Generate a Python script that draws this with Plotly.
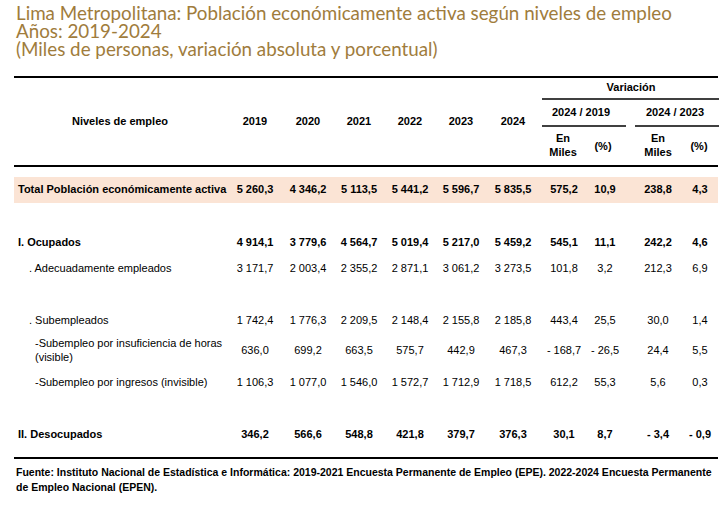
import plotly.graph_objects as go

niveles = [
    "Total Población económicamente activa",
    "I. Ocupados",
    ". Adecuadamente empleados",
    ". Subempleados",
    "-Subempleo por insuficiencia de horas<br>(visible)",
    "-Subempleo por ingresos (invisible)",
    "II. Desocupados",
]
anios = ["2019", "2020", "2021", "2022", "2023", "2024"]
v2019 = [5260.3, 4914.1, 3171.7, 1742.4, 636.0, 1106.3, 346.2]
v2020 = [4346.2, 3779.6, 2003.4, 1776.3, 699.2, 1077.0, 566.6]
v2021 = [5113.5, 4564.7, 2355.2, 2209.5, 663.5, 1546.0, 548.8]
v2022 = [5441.2, 5019.4, 2871.1, 2148.4, 575.7, 1572.7, 421.8]
v2023 = [5596.7, 5217.0, 3061.2, 2155.8, 442.9, 1712.9, 379.7]
v2024 = [5835.5, 5459.2, 3273.5, 2185.8, 467.3, 1718.5, 376.3]
var_19_miles = [575.2, 545.1, 101.8, 443.4, -168.7, 612.2, 30.1]
var_19_pct = [10.9, 11.1, 3.2, 25.5, -26.5, 55.3, 8.7]
var_23_miles = [238.8, 242.2, 212.3, 30.0, 24.4, 5.6, -3.4]
var_23_pct = [4.3, 4.6, 6.9, 1.4, 5.5, 0.3, -0.9]

titulo = [
    "Lima Metropolitana: Población económicamente activa según niveles de empleo",
    "Años: 2019-2024",
    "(Miles de personas, variación absoluta y porcentual)",
]
fuente = [
    "Fuente: Instituto Nacional de Estadística e Informática: 2019-2021 Encuesta Permanente de Empleo (EPE). 2022-2024 Encuesta Permanente",
    "de Empleo Nacional (EPEN).",
]

# Maquetación (coordenadas en píxeles de la ventana)
fila_y = [190, 243, 269, 321, 351, 383, 435]
sangria = [18, 18, 29, 29, 35, 35, 18]
negrita = [True, True, False, False, False, False, True]
col_x = [255, 308, 359, 410, 461, 513, 564, 605, 658, 700]

FONT = "Liberation Sans, Arial, sans-serif"
TITLE_FONT = "Lato, Open Sans, sans-serif"
GOLD = "#A07C3C"


def fmt(v):
    s = f"{abs(v):,.1f}".replace(",", " ").replace(".", ",")
    return ("- " if v < 0 else "") + s


def b(s, on=True):
    return f"<b>{s}</b>" if on else s


fig = go.Figure()

# franja del total
fig.add_shape(type="rect", x0=14, x1=718, y0=177, y1=203,
              fillcolor="#FBE4D5", line_width=0, layer="below")

# líneas de la tabla
for y, x0, x1, w in [(77, 14, 718, 2), (99, 542, 719, 1.6), (126, 542, 626, 1.6),
                     (126, 635, 719, 1.6), (166, 14, 718, 2), (458, 14, 718, 2)]:
    fig.add_shape(type="line", x0=x0, x1=x1, y0=y, y1=y,
                  line=dict(color="black", width=w))

# etiquetas de fila
for i, lab in enumerate(niveles):
    fig.add_trace(go.Scatter(
        x=[sangria[i]], y=[fila_y[i]], mode="text",
        text=[b(lab, negrita[i])], textposition="middle right",
        textfont=dict(family=FONT, size=11, color="black"),
        hoverinfo="skip", showlegend=False))

# columnas de valores
columnas = [v2019, v2020, v2021, v2022, v2023, v2024,
            var_19_miles, var_19_pct, var_23_miles, var_23_pct]
for cx, vals in zip(col_x, columnas):
    fig.add_trace(go.Scatter(
        x=[cx] * len(vals), y=fila_y, mode="text",
        text=[b(fmt(v), negrita[i]) for i, v in enumerate(vals)],
        textposition="middle center",
        textfont=dict(family=FONT, size=11, color="black"),
        hoverinfo="skip", showlegend=False))

# cabecera
cab_x = [120] + col_x[:6] + [631, 581, 675, 563, 603, 658, 699]
cab_y = [122] * 7 + [88, 113, 113, 146, 147, 146, 147]
cab_t = ["Niveles de empleo"] + anios + ["Variación", "2024 / 2019", "2024 / 2023",
                                         "En<br>Miles", "(%)", "En<br>Miles", "(%)"]
fig.add_trace(go.Scatter(
    x=cab_x, y=cab_y, mode="text", text=[b(t) for t in cab_t],
    textposition="middle center",
    textfont=dict(family=FONT, size=11, color="black"),
    hoverinfo="skip", showlegend=False))

# título
for t, y in zip(titulo, [12, 30, 48]):
    fig.add_annotation(x=14, y=y, xref="x", yref="y", text=t, showarrow=False,
                       xanchor="left", yanchor="middle",
                       font=dict(family=TITLE_FONT, size=18.8, color=GOLD))

# fuente
for t, y in zip(fuente, [472, 487]):
    fig.add_annotation(x=14, y=y, xref="x", yref="y", text=b(t), showarrow=False,
                       xanchor="left", yanchor="middle",
                       font=dict(family=FONT, size=10.5, color="black"))

fig.update_layout(
    width=726, height=514,
    margin=dict(l=0, r=0, t=0, b=0),
    paper_bgcolor="white", plot_bgcolor="white",
    xaxis=dict(range=[0, 726], visible=False, fixedrange=True),
    yaxis=dict(range=[514, 0], visible=False, fixedrange=True),
)

# sin margen en <body> para que la figura ocupe la ventana exacta
fig.write_html("out.html", config={"displayModeBar": False},
               post_script="document.body.style.margin='0';"
                           "document.body.style.overflow='hidden';")
